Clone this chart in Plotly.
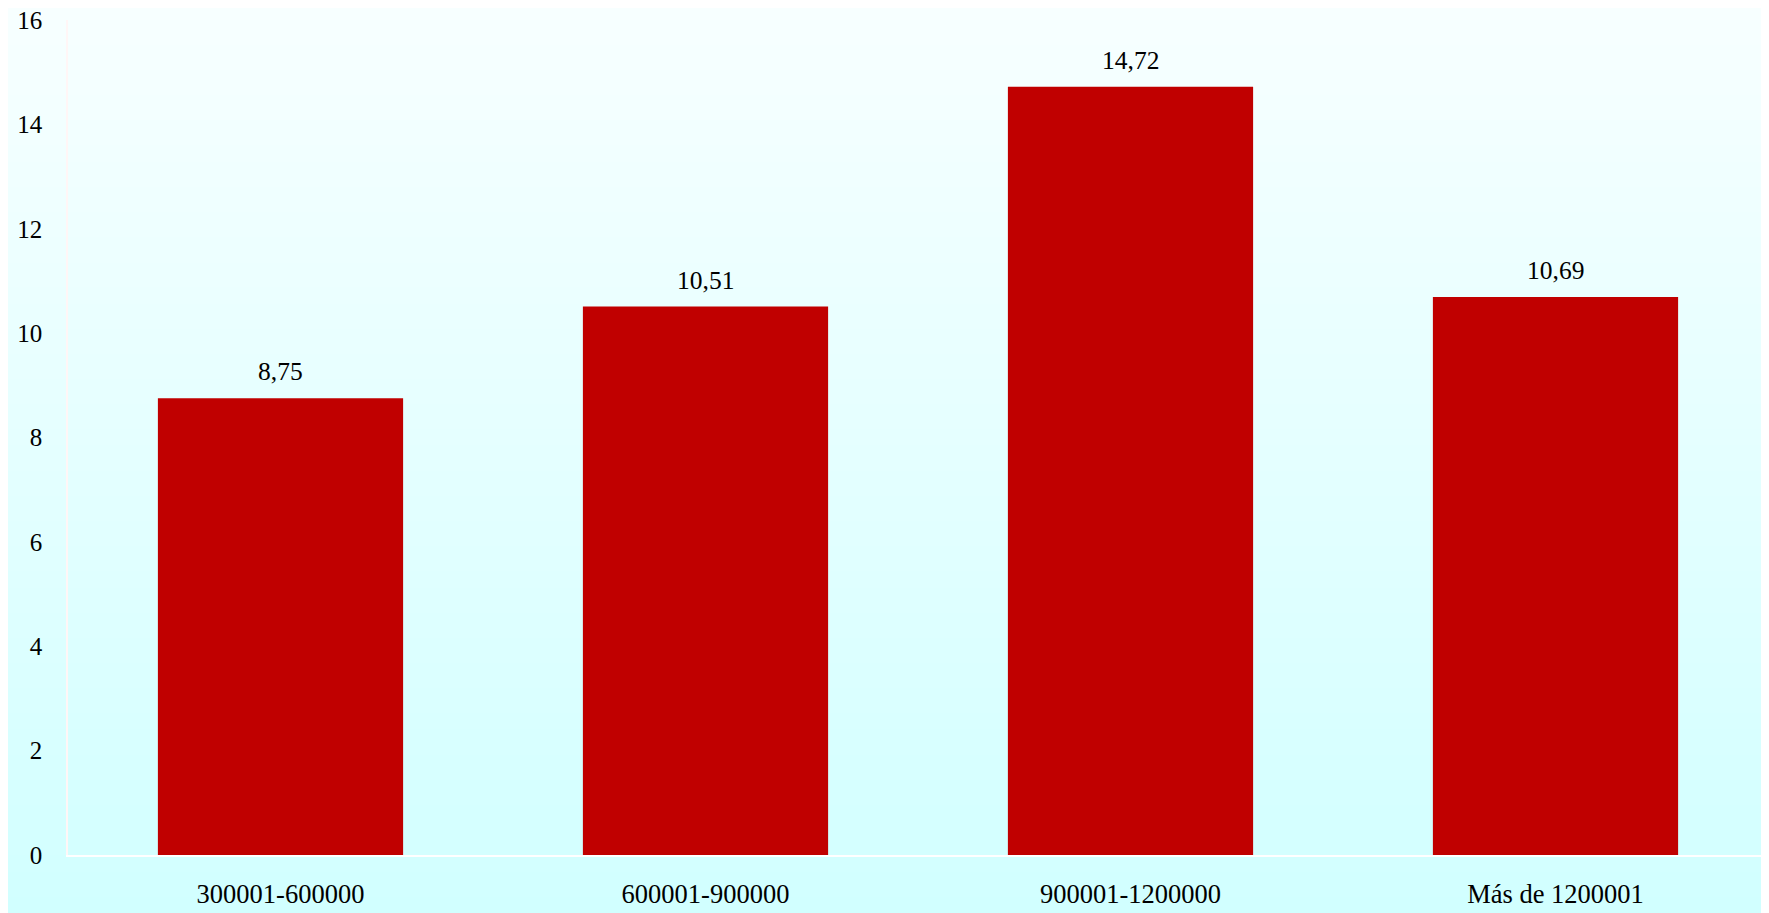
import plotly.graph_objects as go

categories = ["300001-600000", "600001-900000", "900001-1200000", "Más de 1200001"]
values = [8.75, 10.51, 14.72, 10.69]
y_ticks = [0, 2, 4, 6, 8, 10, 12, 14, 16]

FONT = "Liberation Serif, Times New Roman, serif"

fig = go.Figure()
fig.add_trace(go.Bar(
    x=categories, y=values,
    marker=dict(color="#C00000", line=dict(width=0)),
    cliponaxis=False,
))
for c, v in zip(categories, values):
    fig.add_annotation(x=c, y=v, text=("%.2f" % v).replace(".", ","),
                       showarrow=False, yanchor="bottom", yshift=10,
                       font=dict(family=FONT, size=25.5, color="#000000"))

# vertical gradient background (top near white -> bottom light cyan)
top = (250, 255, 255)
bot = (208, 255, 255)
n = 120
shapes = []
for i in range(n):
    t = i / (n - 1)
    c = tuple(round(top[k] + (bot[k] - top[k]) * t) for k in range(3))
    shapes.append(dict(type="rect", xref="paper", yref="paper",
                       x0=-0.1, x1=1.1,
                       y1=1 + 0.1 - (i / n) * 1.2, y0=1 + 0.1 - ((i + 1) / n) * 1.2 - 0.002,
                       fillcolor="rgb(%d,%d,%d)" % c, line=dict(width=0), layer="below"))

fig.update_layout(
    width=1769, height=913,
    margin=dict(l=60, r=9, t=12, b=66),
    paper_bgcolor="rgb(229,255,255)",
    plot_bgcolor="rgba(0,0,0,0)",
    bargap=0.423,
    showlegend=False,
    shapes=shapes,
    font=dict(family=FONT, size=25, color="#000000"),
)
fig.update_yaxes(range=[0, 16], tickvals=y_ticks, showgrid=False, zeroline=False,
                 showline=True, linecolor="#FFF6F6", linewidth=1.5, automargin=False,
                 ticks="", ticklabelstandoff=19, ticklabeloverflow="allow",
                 tickfont=dict(family=FONT, size=25, color="#000000"))
fig.update_xaxes(showgrid=False, showline=True, linecolor="#FFFFFF", linewidth=2,
                 ticks="", ticklabelstandoff=14, automargin=False,
                 ticklabeloverflow="allow",
                 tickfont=dict(family=FONT, size=26.5, color="#000000"))

fig.write_html("out.html")
